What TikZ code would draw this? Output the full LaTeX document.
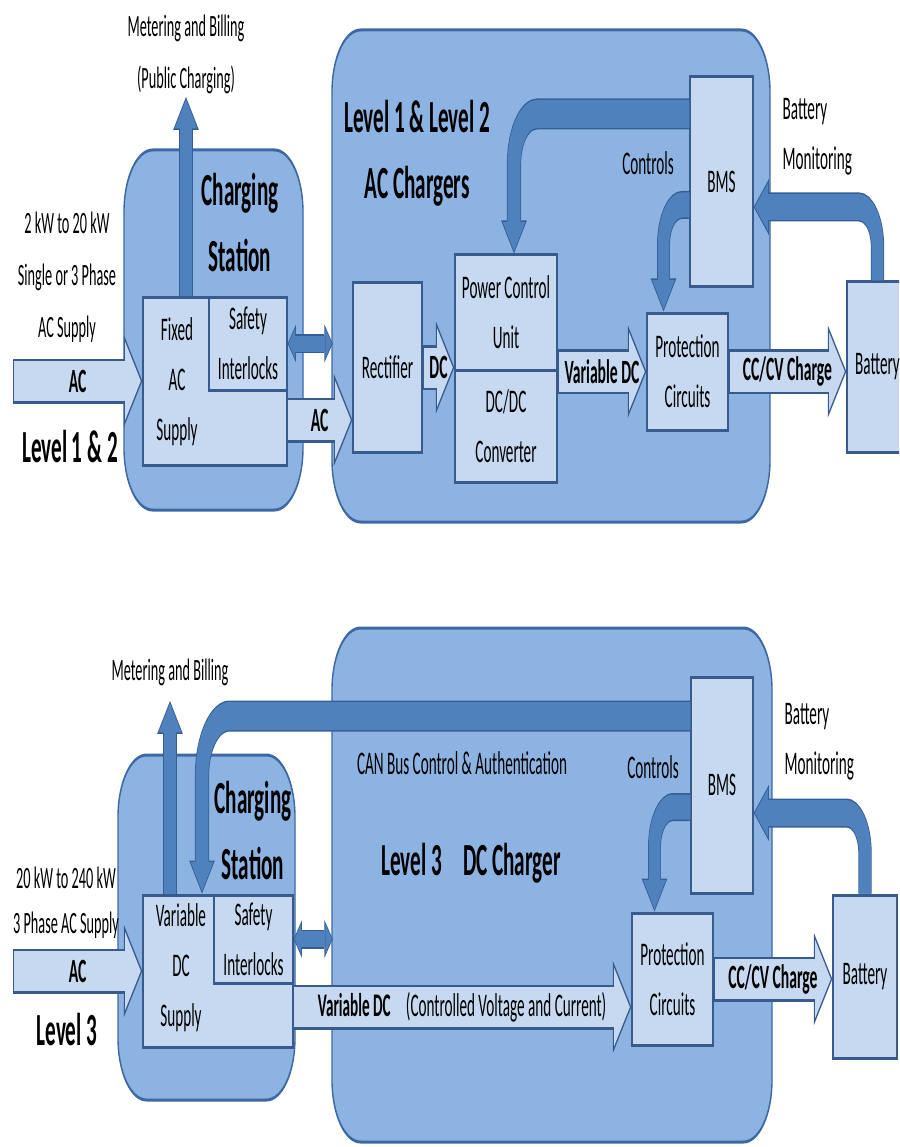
\documentclass[tikz,border=0pt]{standalone}
\usepackage{fontspec}
\setmainfont{Carlito}
\usetikzlibrary{arrows.meta, fit, calc}

\definecolor{zonefill}{RGB}{141,179,226}
\definecolor{zoneline}{RGB}{62,104,164}
\definecolor{blkfill}{RGB}{198,217,241}
\definecolor{blkline}{RGB}{56,90,140}
\definecolor{arrfill}{RGB}{79,129,189}
\definecolor{arrline}{RGB}{52,94,148}

\tikzset{
  zone/.style={draw=zoneline, fill=zonefill, line width=3pt, rounded corners=62pt},
  txt/.style={font=\fontsize{33}{50}\selectfont, align=center},
  ttl/.style={font=\bfseries\fontsize{46}{66}\selectfont, align=center},
  small/.style={font=\fontsize{31}{52}\selectfont, align=center},
  blk/.style={draw=blkline, fill=blkfill, line width=3pt, inner sep=0pt, label={[txt]center:#1}},
  blk/.default={},
  arrlbl/.style={font=\bfseries\fontsize{34}{40}\selectfont},
  feed/.style={preaction={draw=blkline, line width=45pt, shorten >=0pt, shorten <=0pt,
      -{Triangle[length=40pt, width=92pt, line width=0pt]}},
    draw=blkfill, line width=40pt, shorten >=3.3pt, shorten <=2.5pt,
    -{Triangle[length=34pt, width=78pt, line width=0pt]}},
  signal/.style={preaction={draw=arrline, line width=#1+3pt, shorten >=0pt, shorten <=0pt,
      -{Triangle[length=33pt, width=56pt, line width=0pt]}},
    draw=arrfill, line width=#1, shorten >=2.3pt,
    -{Triangle[length=29pt, width=49pt, line width=0pt]}},
  twoway/.style={preaction={draw=arrline, line width=19pt, shorten >=0pt, shorten <=0pt,
      {Triangle[length=18pt, width=38pt, line width=0pt]}-{Triangle[length=18pt, width=38pt, line width=0pt]}},
    draw=arrfill, line width=16pt, shorten >=2pt, shorten <=2pt,
    {Triangle[length=14pt, width=30pt, line width=0pt]}-{Triangle[length=14pt, width=30pt, line width=0pt]}}
}

\begin{document}
\begin{tikzpicture}[x=1pt, y=-1pt]
\useasboundingbox (0,0) rectangle (899,1147);
\clip (0,0) rectangle (899,1147);
\begin{scope}[transform canvas={xscale=0.46}, x=2.17391pt]

% Level 1 & 2
\draw[zone] (124,150) rectangle (303,510);
\draw[zone] (332,30) rectangle (770,522);

\node[blk, fit={(143,297) (287,465)}] (fixedA) {};
\node[blk={Safety\\Interlocks}, fit={(209,297) (287,390)}] (safeA) {};
\node[txt] (fixedAtxt) at (177,382) {Fixed\\AC\\Supply};
\node[blk=Rectifier, fit={(353,283) (422,452)}] (rectA) {};
\node[blk={Power Control\\Unit}, fit={(455,255) (557,370)}] (pcuA) {};
\node[blk={DC/DC\\Converter}, fit={(455,370) (557,482)}] (dcdcA) {};
\node[blk={Protection\\Circuits}, fit={(647,313) (728,430)}] (protA) {};
\node[blk=BMS, fit={(690,77) (753,287)}] (bmsA) {};
\node[blk=Battery, fit={(847,282) (908,452)}] (batA) {};

\node[small] (meterA) at (186,54) {Metering and Billing\\(Public Charging)};
\node[ttl] (csA) at (240,223) {Charging\\Station};
\node[ttl] (accA) at (417,153) {Level 1 \& Level 2\\AC Chargers};
\node[small] (supplyA) at (67,277) {2 kW to 20 kW\\Single or 3 Phase\\AC Supply};
\node[ttl] (lvlA) at (70,447) {Level 1 \& 2};
\node[txt] (ctrlA) at (648,163) {Controls};
\node[txt, anchor=west, align=left] (monA) at (781,137) {Battery\\Monitoring};

\coordinate (inA) at (13,381);
\coordinate (acA) at (287,420);
\draw[feed] (inA) -- (inA -| fixedA.west) node[arrlbl, midway] {AC};
\draw[feed] (acA) -- (acA -| rectA.west) node[arrlbl, midway] {AC};
\draw[feed] (rectA.east) -- (rectA.east -| pcuA.west) node[arrlbl, midway] {DC};
\draw[feed] (protA.west -| pcuA.east) -- (protA.west) node[arrlbl, midway] {Variable DC};
\draw[feed] (protA.east) -- (protA.east -| batA.west) node[arrlbl, midway] {CC/CV Charge};

\draw[signal=26pt] (meterA.south |- fixedA.north) -- (meterA.south);
\draw[twoway] (safeA.east) -- ++(45,0);
\draw[signal=28pt, rounded corners=50pt] (bmsA.west |- 0,114) -| ($(pcuA.north)+(8,0)$);
\draw[signal=25pt, rounded corners=40pt] (bmsA.west |- 0,205) -| ($(protA.north)+(-24,0)$);
\draw[signal=26pt, rounded corners=40pt] (batA.north) |- (bmsA.east |- 0,207);

% Level 3
\draw[zone] (118,755) rectangle (295,1100);
\draw[zone] (332,628) rectangle (772,1142);

\node[blk, fit={(143,895) (293,1047)}] (varB) {};
\node[blk={Safety\\Interlocks}, fit={(214,895) (293,983)}] (safeB) {};
\node[txt] (varBtxt) at (181,968) {Variable\\DC\\Supply};
\node[blk={Protection\\Circuits}, fit={(632,913) (713,1045)}] (protB) {};
\node[blk=BMS, fit={(691,677) (753,893)}] (bmsB) {};
\node[blk=Battery, fit={(833,895) (897,1058)}] (batB) {};

\node[small] (meterB) at (170,672) {Metering and Billing};
\node[ttl] (csB) at (253,831) {Charging\\Station};
\node[txt] (canB) at (462,763) {CAN Bus Control \& Authentication};
\node[ttl] (dccB) at (471,863) {Level 3\quad DC Charger};
\node[small, font=\fontsize{31}{45}\selectfont] (supplyB) at (66,903) {20 kW to 240 kW\\3 Phase AC Supply};
\node[ttl] (lvlB) at (67,1030) {Level 3};
\node[txt] (ctrlB) at (653,767) {Controls};
\node[txt, anchor=west, align=left] (monB) at (783,742) {Battery\\Monitoring};

\coordinate (inB) at (13,971);
\coordinate (vdcB) at (293,1007);
\draw[feed] (inB) -- (inB -| varB.west) node[arrlbl, midway] {AC};
\draw[feed] (vdcB) -- (vdcB -| protB.west) node[midway, font=\fontsize{33}{40}\selectfont] {\textbf{Variable DC}\quad(Controlled Voltage and Current)};
\draw[feed] (protB.east) -- (protB.east -| batB.west) node[arrlbl, midway] {CC/CV Charge};

\draw[signal=26pt] (meterB.south |- varB.north) -- ($(meterB.south)+(0,12)$);
\draw[twoway] (safeB.east) -- ++(39,0);
\draw[signal=28pt, rounded corners=60pt] (bmsB.west |- 0,716) -| ($(varB.north)+(-16,0)$);
\draw[signal=25pt, rounded corners=40pt] (bmsB.west |- 0,807) -| ($(protB.north)+(-18,0)$);
\draw[signal=26pt, rounded corners=40pt] (batB.north) |- (bmsB.east |- 0,813);

\end{scope}
\end{tikzpicture}
\end{document}
